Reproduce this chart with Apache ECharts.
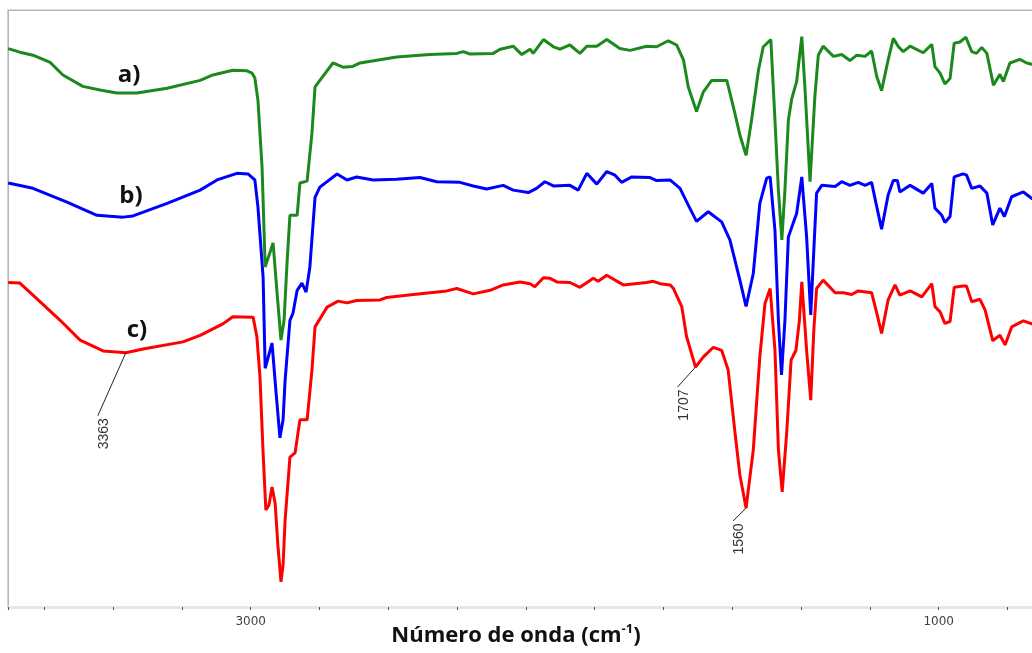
<!DOCTYPE html>
<html>
<head>
<meta charset="utf-8">
<title>Espectros FTIR</title>
<script src="https://cdn.jsdelivr.net/npm/echarts@6/dist/echarts.min.js"></script>
<style>
  html, body { margin: 0; padding: 0; background: #fff; }
  #chart { width: 1032px; height: 653px; }
</style>
</head>
<body>
<div id="chart"></div>
<script>
// espectro a) - numero de onda (cm-1) e transmitancia (u.a.)
var wnA = [3705, 3671, 3633, 3583, 3546, 3488, 3438, 3389, 3331, 3243, 3147, 3110, 3052, 3011, 2996, 2988,
  2979, 2967, 2958, 2953, 2935, 2924, 2912, 2903, 2894, 2886, 2865, 2857, 2836, 2822, 2813, 2799, 2761, 2732,
  2705, 2682, 2576, 2479, 2401, 2382, 2363, 2295, 2275, 2237, 2212, 2188, 2179, 2149, 2120, 2101, 2072, 2043,
  2023, 1994, 1965, 1927, 1897, 1849, 1820, 1786, 1762, 1742, 1728, 1704, 1684, 1660, 1616, 1597, 1578, 1560,
  1544, 1524, 1510, 1488, 1476, 1466, 1456, 1447, 1437, 1427, 1413, 1398, 1389, 1374, 1360, 1350, 1336, 1306,
  1282, 1258, 1238, 1214, 1195, 1180, 1166, 1147, 1132, 1117, 1103, 1083, 1045, 1020, 1011, 996, 982, 967,
  955, 938, 921, 904, 890, 875, 860, 841, 822, 812, 793, 764, 744, 729, 705];
var tA = [93.1, 92.5, 92.0, 90.8, 88.7, 86.8, 86.2, 85.7, 85.7, 86.5, 87.8, 88.7, 89.5, 89.4, 89.0, 88.2,
  84.5, 73.3, 56.7, 56.5, 60.7, 52.8, 44.5, 47.8, 57.8, 65.3, 65.3, 70.7, 71.0, 79.0, 86.7, 87.8, 90.7, 90.0,
  90.1, 90.7, 91.7, 92.1, 92.3, 92.6, 92.2, 92.3, 93.0, 93.5, 92.1, 93.0, 92.3, 94.6, 93.4, 93.0, 93.7, 92.3,
  93.5, 93.5, 94.6, 93.1, 92.8, 93.5, 93.4, 94.4, 93.7, 91.2, 86.7, 82.6, 85.9, 87.8, 87.8, 83.4, 78.7, 75.3,
  81.2, 89.5, 93.4, 94.6, 81.2, 69.5, 61.2, 69.5, 81.2, 84.8, 87.6, 95.1, 86.7, 70.9, 85.1, 92.0, 93.5, 91.8,
  92.1, 91.1, 92.0, 91.8, 92.7, 88.4, 86.1, 91.2, 94.8, 93.4, 92.6, 93.5, 92.4, 93.8, 90.1, 89.0, 87.2, 88.1,
  94.0, 94.2, 95.0, 92.6, 92.3, 93.3, 92.3, 87.0, 88.8, 87.6, 90.7, 91.3, 90.7, 90.5, 90.2];

// espectro b)
var wnB = [3705, 3633, 3534, 3447, 3371, 3342, 3243, 3147, 3098, 3040, 3008, 2988, 2979, 2964, 2958, 2953,
  2938, 2927, 2915, 2906, 2900, 2886, 2877, 2865, 2851, 2839, 2828, 2813, 2799, 2749, 2720, 2692, 2644, 2576,
  2508, 2459, 2392, 2353, 2314, 2266, 2237, 2193, 2169, 2145, 2120, 2072, 2048, 2023, 1994, 1965, 1941, 1922,
  1892, 1839, 1820, 1781, 1752, 1728, 1704, 1670, 1631, 1607, 1578, 1560, 1539, 1520, 1500, 1490, 1476, 1466,
  1457, 1447, 1437, 1423, 1413, 1398, 1384, 1372, 1363, 1355, 1340, 1301, 1282, 1258, 1234, 1214, 1195, 1180,
  1166, 1147, 1132, 1120, 1113, 1083, 1045, 1020, 1011, 991, 982, 967, 955, 929, 919, 904, 880, 860, 843, 822,
  809, 788, 754, 729, 705];
var tB = [70.7, 69.8, 67.5, 65.3, 65.0, 65.2, 67.3, 69.5, 71.2, 72.3, 72.2, 71.2, 66.7, 55.0, 39.8, 39.8,
  44.0, 36.2, 28.2, 31.2, 37.8, 47.8, 49.0, 52.8, 54.0, 52.5, 56.7, 68.3, 70.0, 72.2, 71.2, 71.7, 71.2, 71.3,
  71.6, 70.9, 70.8, 70.2, 69.7, 70.3, 69.5, 69.1, 69.8, 70.9, 70.2, 70.3, 69.5, 72.3, 70.5, 72.6, 72.0, 70.8,
  71.7, 71.6, 71.1, 71.2, 69.8, 67.0, 64.3, 65.9, 64.2, 61.2, 54.5, 50.1, 55.6, 67.3, 71.5, 71.7, 62.8, 47.8,
  38.7, 47.8, 61.7, 64.0, 65.6, 71.7, 61.7, 48.7, 59.5, 69.0, 70.3, 70.1, 70.9, 70.3, 70.8, 70.3, 70.8, 66.7,
  63.0, 68.7, 71.1, 71.1, 69.2, 70.3, 69.0, 70.6, 66.5, 65.3, 64.1, 65.1, 71.7, 72.2, 72.0, 69.8, 70.2, 69.0,
  63.7, 66.5, 65.1, 68.4, 69.2, 68.1, 67.8];

// espectro c)
var wnC = [3705, 3671, 3633, 3554, 3496, 3429, 3363, 3313, 3197, 3147, 3081, 3052, 2993, 2982, 2973, 2964,
  2956, 2947, 2938, 2929, 2921, 2912, 2906, 2900, 2886, 2871, 2857, 2836, 2822, 2813, 2778, 2746, 2720, 2692,
  2624, 2605, 2527, 2430, 2401, 2353, 2304, 2266, 2217, 2188, 2174, 2149, 2130, 2110, 2072, 2043, 2004, 1990,
  1965, 1917, 1849, 1830, 1810, 1781, 1771, 1747, 1733, 1707, 1684, 1655, 1631, 1612, 1592, 1578, 1560, 1539,
  1520, 1505, 1490, 1476, 1466, 1455, 1442, 1429, 1415, 1405, 1398, 1384, 1372, 1363, 1355, 1336, 1301, 1277,
  1253, 1234, 1195, 1180, 1166, 1147, 1127, 1113, 1083, 1049, 1020, 1011, 996, 982, 967, 955, 929, 919, 904,
  880, 865, 843, 822, 807, 788, 754, 729, 705];
var tC = [54.1, 54.0, 52.0, 47.8, 44.5, 42.7, 42.4, 43.0, 44.2, 45.3, 47.2, 48.4, 48.3, 45.0, 38.3, 25.7,
  16.2, 17.0, 20.0, 17.3, 10.3, 4.2, 7.0, 14.5, 25.0, 25.7, 31.2, 31.2, 39.5, 46.7, 50.0, 51.0, 50.7, 51.1,
  51.2, 51.6, 52.1, 52.7, 53.1, 52.2, 52.8, 53.7, 54.2, 53.9, 53.4, 54.9, 54.8, 54.2, 54.1, 53.3, 54.8, 54.3,
  55.3, 53.7, 54.1, 54.3, 53.9, 53.7, 53.1, 50.1, 45.1, 40.0, 41.7, 43.3, 42.8, 39.5, 29.0, 22.0, 16.5, 26.2,
  41.7, 50.6, 53.1, 42.8, 26.2, 19.2, 29.0, 41.2, 42.8, 47.8, 54.2, 42.8, 34.5, 46.2, 53.1, 54.5, 52.4, 52.4,
  52.1, 52.7, 52.4, 49.0, 45.6, 51.2, 53.7, 52.0, 52.7, 51.7, 53.9, 50.1, 49.2, 47.3, 47.6, 53.3, 53.5, 53.5, 50.9,
  51.3, 49.5, 44.4, 45.3, 43.7, 46.7, 47.7, 47.2, 47.0];

// eixo x: rotulos mostrados
var xLabels = [3000, 1000];
// bandas marcadas no espectro c)
var peakWn = [3363, 1707, 1560];

function pairs(xs, ys) {
  return xs.map(function (x, i) { return [x, ys[i]]; });
}

var chart = echarts.init(document.getElementById('chart'));

var option = {
  animation: false,
  backgroundColor: '#ffffff',
  grid: {
    left: 8.2, top: 10.2, right: -44.3, bottom: 46,
    show: true, borderColor: '#b5b5b5', borderWidth: 1.6,
    outerBoundsMode: 'none'
  },
  xAxis: {
    type: 'value',
    inverse: true,
    min: 600,
    max: 3705,
    interval: 200,
    axisLine: { lineStyle: { color: '#e6e6e6', width: 3 } },
    axisTick: { length: 3, lineStyle: { color: '#555', width: 1 } },
    axisLabel: {
      margin: 9,
      fontSize: 12,
      color: '#404040',
      fontFamily: 'DejaVu Sans',
      formatter: function (v) { return xLabels.indexOf(v) >= 0 ? String(v) : ''; }
    },
    splitLine: { show: false }
  },
  yAxis: {
    type: 'value',
    min: 0,
    max: 99.5,
    show: false
  },
  series: [
    {
      name: 'c)', type: 'line', data: pairs(wnC, tC), showSymbol: false,
      lineStyle: { color: '#ff0000', width: 3 }, itemStyle: { color: '#ff0000' }
    },
    {
      name: 'b)', type: 'line', data: pairs(wnB, tB), showSymbol: false,
      lineStyle: { color: '#0000ff', width: 3 }, itemStyle: { color: '#0000ff' }
    },
    {
      name: 'a)', type: 'line', data: pairs(wnA, tA), showSymbol: false,
      lineStyle: { color: '#1c891c', width: 3 }, itemStyle: { color: '#1c891c' }
    }
  ]
};
chart.setOption(option);

// etiquetas das curvas, titulo do eixo e marcacoes das bandas
var tagFont = 'bold 24px "Open Sans"';
var graphics = [
  { type: 'text', x: 129, y: 75, style: { text: 'a)', font: tagFont, fill: '#111', align: 'center', verticalAlign: 'middle' } },
  { type: 'text', x: 131, y: 196, style: { text: 'b)', font: tagFont, fill: '#111', align: 'center', verticalAlign: 'middle' } },
  { type: 'text', x: 137, y: 330, style: { text: 'c)', font: tagFont, fill: '#111', align: 'center', verticalAlign: 'middle' } },
  {
    type: 'text', x: 516, y: 636,
    style: {
      text: '{a|Número de onda (cm}{s|-1}{a|)}',
      align: 'center', verticalAlign: 'middle',
      rich: {
        a: { fontFamily: 'Open Sans', fontWeight: 'bold', fontSize: 22, fill: '#111', lineHeight: 26 },
        s: { fontFamily: 'Open Sans', fontWeight: 'bold', fontSize: 13, fill: '#111', verticalAlign: 'top', lineHeight: 26 }
      }
    }
  }
];

var leader = [[-28, 63], [-18, 20], [-13, 13]];
peakWn.forEach(function (wn, i) {
  var v = tC[wnC.indexOf(wn)];
  var p = chart.convertToPixel({ xAxisIndex: 0, yAxisIndex: 0 }, [wn, v]);
  var ex = p[0] + leader[i][0], ey = p[1] + leader[i][1];
  graphics.push({
    type: 'line', shape: { x1: p[0], y1: p[1], x2: ex, y2: ey },
    style: { stroke: '#222', lineWidth: 1 }, z: 100
  });
  graphics.push({
    type: 'text', x: ex + 6.5, y: ey + 18, rotation: Math.PI / 2, z: 100,
    style: { text: String(wn), font: '14px "Liberation Sans"', fill: '#333', align: 'center', verticalAlign: 'middle' }
  });
});

chart.setOption({ graphic: graphics });
</script>
</body>
</html>
